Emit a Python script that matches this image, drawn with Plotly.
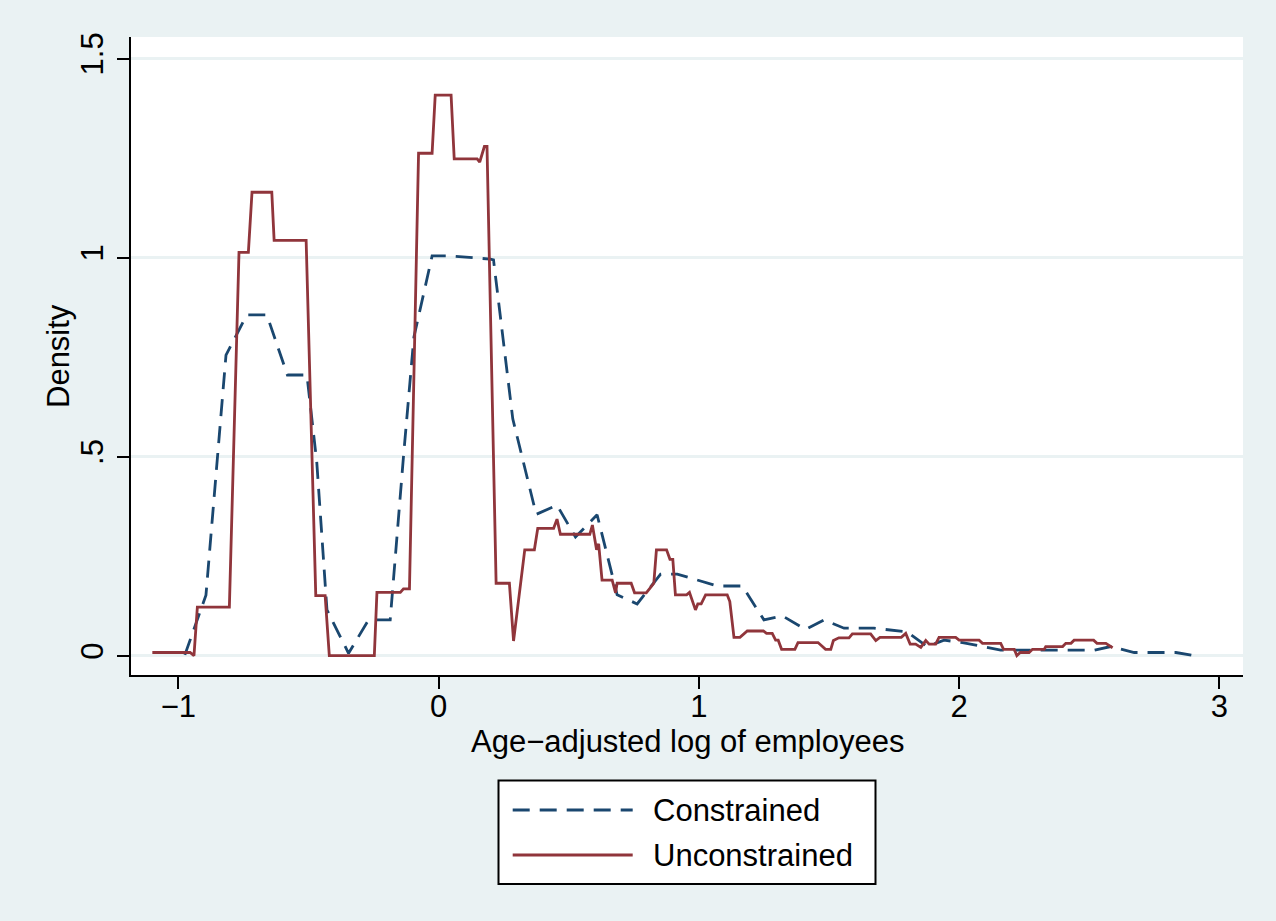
import plotly.graph_objects as go

# ---- data ----
x_unconstrained = [-1.10, -0.955, -0.94, -0.927, -0.804, -0.767, -0.731, -0.717, -0.641, -0.632,
                   -0.509, -0.472, -0.436, -0.42, -0.247, -0.237, -0.147, -0.135, -0.112, -0.077,
                   -0.025, -0.013, 0.048, 0.060, 0.148, 0.158, 0.176, 0.186, 0.221, 0.272,
                   0.288, 0.331, 0.368, 0.381, 0.442, 0.455, 0.468, 0.581, 0.591, 0.607,
                   0.615, 0.628, 0.667, 0.680, 0.686, 0.740, 0.753, 0.798, 0.814, 0.827,
                   0.837, 0.876, 0.889, 0.900, 0.910, 0.953, 0.964, 0.987, 0.996, 1.009,
                   1.026, 1.109, 1.119, 1.135, 1.158, 1.186, 1.248, 1.260, 1.282, 1.295,
                   1.305, 1.318, 1.369, 1.381, 1.458, 1.487, 1.507, 1.517, 1.538, 1.577,
                   1.590, 1.660, 1.680, 1.696, 1.778, 1.795, 1.812, 1.833, 1.853, 1.872,
                   1.885, 1.910, 1.923, 1.987, 2.000, 2.077, 2.090, 2.160, 2.171, 2.212,
                   2.222, 2.235, 2.269, 2.282, 2.327, 2.333, 2.398, 2.410, 2.430, 2.442,
                   2.517, 2.530, 2.564, 2.590]
y_unconstrained = [0.008, 0.008, 0.000, 0.122, 0.122, 1.013, 1.013, 1.164, 1.164, 1.043,
                   1.043, 0.151, 0.151, 0.000, 0.000, 0.159, 0.159, 0.168, 0.168, 1.262,
                   1.262, 1.408, 1.408, 1.248, 1.248, 1.240, 1.279, 1.279, 0.182, 0.182,
                   0.037, 0.266, 0.266, 0.320, 0.320, 0.343, 0.305, 0.305, 0.328, 0.266,
                   0.281, 0.190, 0.190, 0.158, 0.182, 0.182, 0.158, 0.158, 0.171, 0.182,
                   0.266, 0.266, 0.242, 0.242, 0.153, 0.153, 0.159, 0.115, 0.130, 0.130,
                   0.153, 0.153, 0.136, 0.046, 0.046, 0.062, 0.062, 0.056, 0.056, 0.039,
                   0.039, 0.016, 0.016, 0.033, 0.033, 0.016, 0.016, 0.038, 0.045, 0.045,
                   0.055, 0.055, 0.038, 0.046, 0.046, 0.056, 0.029, 0.029, 0.021, 0.038,
                   0.029, 0.029, 0.046, 0.046, 0.039, 0.039, 0.031, 0.031, 0.016, 0.016,
                   0.000, 0.008, 0.008, 0.016, 0.016, 0.023, 0.023, 0.031, 0.031, 0.039,
                   0.039, 0.031, 0.031, 0.020]

x_constrained = [-0.975, -0.894, -0.817, -0.737, -0.660, -0.581, -0.506, -0.468, -0.429, -0.346,
                 -0.269, -0.186, -0.135, -0.095, -0.025, 0.051, 0.199, 0.211, 0.285, 0.375,
                 0.455, 0.526, 0.609, 0.686, 0.763, 0.853, 0.917, 1.071, 1.167, 1.250,
                 1.321, 1.410, 1.481, 1.558, 1.673, 1.800, 1.878, 1.942, 2.013, 2.160,
                 2.519, 2.583, 2.673, 2.833, 2.904]
y_constrained = [0.002, 0.152, 0.755, 0.856, 0.856, 0.705, 0.705, 0.485, 0.115, 0.006,
                 0.090, 0.090, 0.500, 0.800, 1.004, 1.004, 0.996, 0.994, 0.595, 0.355,
                 0.378, 0.298, 0.354, 0.153, 0.130, 0.205, 0.205, 0.175, 0.175, 0.090,
                 0.100, 0.066, 0.090, 0.069, 0.069, 0.060, 0.023, 0.039, 0.033, 0.014,
                 0.014, 0.023, 0.008, 0.008, 0.000]

x_ticks = [-1, 0, 1, 2, 3]
x_tick_labels = ["\u22121", "0", "1", "2", "3"]
y_ticks = [0, 0.5, 1, 1.5]
y_tick_labels = ["0", ".5", "1", "1.5"]
series_names = ["Constrained", "Unconstrained"]

# ---- styles ----
BLUE = "#1a476f"
RED = "#90353b"
BG = "#eaf2f3"
FONT = "Liberation Sans, Arial, Helvetica, sans-serif"
W, H = 1276, 921
L, R, T, B = 131, 33, 37, 246
pw, ph = W - L - R, H - T - B

def px_x(p):
    return (p - L) / pw

def px_y(p):
    return (H - B - p) / ph

fig = go.Figure()
fig.add_trace(go.Scatter(x=x_constrained, y=y_constrained, mode="lines",
                         name=series_names[0],
                         line=dict(color=BLUE, width=2.8, dash="17px,10px")))
fig.add_trace(go.Scatter(x=x_unconstrained, y=y_unconstrained, mode="lines",
                         name=series_names[1],
                         line=dict(color=RED, width=2.8)))

fig.update_layout(
    width=W, height=H,
    margin=dict(l=L, r=R, t=T, b=B, pad=0),
    paper_bgcolor=BG, plot_bgcolor="white",
    showlegend=False,
    font=dict(family=FONT, size=30, color="black"),
)
fig.update_xaxes(range=[-1.182, 3.091], tickvals=x_ticks, ticktext=x_tick_labels,
                 showgrid=False, zeroline=False, showline=True, linecolor="black",
                 linewidth=2, ticks="outside", ticklen=12, tickwidth=2, tickcolor="black",
                 ticklabelstandoff=-9,
                 tickfont=dict(size=31, family=FONT))
fig.update_yaxes(range=[-0.0485, 1.554], tickvals=y_ticks, ticktext=y_tick_labels,
                 showgrid=True, gridcolor=BG, gridwidth=2.5, zeroline=False,
                 showline=True, linecolor="black", linewidth=2, ticks="outside",
                 ticklen=12, tickwidth=2, tickcolor="black", tickangle=-90,
                 ticklabelstandoff=2,
                 tickfont=dict(size=31, family=FONT))

annotations = [
    dict(text="Age\u2212adjusted log of employees", xref="paper", yref="paper",
         x=0.5, y=px_y(741), xanchor="center", yanchor="middle", showarrow=False,
         font=dict(size=31, family=FONT)),
    dict(text="Density", xref="paper", yref="paper", x=px_x(58), y=0.5,
         xanchor="center", yanchor="middle", textangle=-90, showarrow=False,
         font=dict(size=31, family=FONT)),
    dict(text=series_names[0], xref="paper", yref="paper", x=px_x(651), y=px_y(810),
         xanchor="left", yanchor="middle", showarrow=False, font=dict(size=31, family=FONT)),
    dict(text=series_names[1], xref="paper", yref="paper", x=px_x(651), y=px_y(855),
         xanchor="left", yanchor="middle", showarrow=False, font=dict(size=31, family=FONT)),
]
shapes = [
    dict(type="rect", xref="paper", yref="paper", x0=px_x(498.5), x1=px_x(875.5),
         y0=px_y(884), y1=px_y(780.5), line=dict(color="black", width=2), fillcolor="white"),
    dict(type="line", xref="paper", yref="paper", x0=px_x(512.7), x1=px_x(632.7),
         y0=px_y(810), y1=px_y(810), line=dict(color=BLUE, width=2.8, dash="17px,10px")),
    dict(type="line", xref="paper", yref="paper", x0=px_x(512.7), x1=px_x(632.7),
         y0=px_y(855), y1=px_y(855), line=dict(color=RED, width=2.8)),
]
fig.update_layout(annotations=annotations, shapes=shapes)

fig.write_html("out.html")
